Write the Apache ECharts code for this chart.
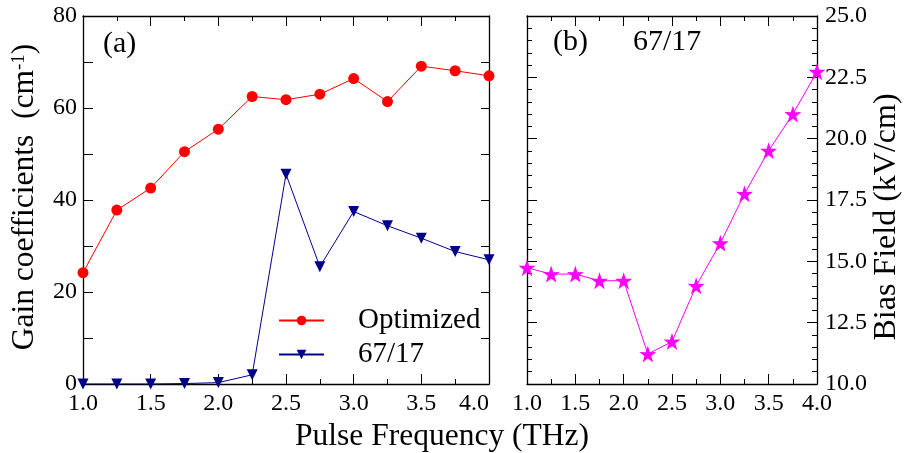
<!DOCTYPE html>
<html>
<head>
<meta charset="utf-8">
<script src="https://cdn.jsdelivr.net/npm/echarts@6/dist/echarts.min.js"></script>
<style>
  html, body { margin: 0; padding: 0; background: #fff; }
  #main { width: 904px; height: 453px; }
</style>
</head>
<body>
<div id="main"></div>
<script>
// 数据
var freq = [1.0, 1.25, 1.5, 1.75, 2.0, 2.25, 2.5, 2.75, 3.0, 3.25, 3.5, 3.75, 4.0];
var gainOptimized = [24.2, 37.8, 42.6, 50.5, 55.4, 62.5, 61.8, 63.0, 66.4, 61.4, 69.1, 68.1, 67.0];
var gain6717 = [0, 0, 0, 0.1, 0.3, 2.0, 45.6, 25.5, 37.5, 34.4, 31.7, 28.8, 27.0];
var biasField = [14.74, 14.48, 14.48, 14.21, 14.21, 11.22, 11.73, 14.0, 15.74, 17.75, 19.51, 21.0, 22.73];
var seriesNames = ["Optimized", "67/17"];

function pairs(xs, ys) {
    return xs.map(function (x, i) { return [x, ys[i]]; });
}

var FONT = "Liberation Serif";
// 五角星 symbol
var star = 'path://M50,0 L61.8,35.1 L97.6,34.5 L68.8,56 L79.4,90.5 L50,69.5 L20.6,90.5 L31.2,56 L2.4,34.5 L38.2,35.1 Z';

// 通用坐标轴样式
function axisBase(extra) {
    var a = {
        type: 'value',
        axisLine: { show: true, onZero: false, lineStyle: { color: '#000', width: 1.3 } },
        axisTick: { show: true, inside: true, length: 10, lineStyle: { color: '#000', width: 1 } },
        splitLine: { show: false },
        axisLabel: { show: false, color: '#000', fontFamily: FONT, fontSize: 24 }
    };
    for (var k in extra) a[k] = extra[k];
    return a;
}

var minorX = { show: true, splitNumber: 2, length: 5, lineStyle: { color: '#000' } };
var minorY = { show: true, splitNumber: 5, length: 5, lineStyle: { color: '#000' } };
function fix1(v) { return v.toFixed(1); }

var chart = echarts.init(document.getElementById('main'));
var option = {
    animation: false,
    backgroundColor: '#fff',
    textStyle: { fontFamily: FONT },
    grid: [
        { left: 83, top: 16, width: 406, height: 368 },
        { left: 527, top: 16, width: 290, height: 368 }
    ],
    xAxis: [
        axisBase({ gridIndex: 0, position: 'bottom', min: 1, max: 4, interval: 0.5, minorTick: minorX,
            axisLabel: { show: true, color: '#000', fontFamily: FONT, fontSize: 24, margin: 8, alignMaxLabel: 'right', formatter: fix1 } }),
        axisBase({ gridIndex: 0, position: 'top', min: 1, max: 4, interval: 0.5, minorTick: minorX }),
        axisBase({ gridIndex: 1, position: 'bottom', min: 1, max: 4, interval: 0.5, minorTick: minorX,
            axisLabel: { show: true, color: '#000', fontFamily: FONT, fontSize: 24, margin: 8, formatter: fix1 } }),
        axisBase({ gridIndex: 1, position: 'top', min: 1, max: 4, interval: 0.5, minorTick: minorX })
    ],
    yAxis: [
        axisBase({ gridIndex: 0, position: 'left', min: 0, max: 80, interval: 10,
            axisLabel: { show: true, color: '#000', fontFamily: FONT, fontSize: 24, margin: 6,
                formatter: function (v) { return v % 20 === 0 ? String(v) : ''; } } }),
        axisBase({ gridIndex: 0, position: 'right', min: 0, max: 80, interval: 10,
            axisTick: { show: true, inside: true, length: 8, lineStyle: { color: '#000' } } }),
        axisBase({ gridIndex: 1, position: 'right', min: 10, max: 25, interval: 2.5, minorTick: minorY,
            axisLabel: { show: true, color: '#000', fontFamily: FONT, fontSize: 24, margin: 8, formatter: fix1 } }),
        axisBase({ gridIndex: 1, position: 'left', min: 10, max: 25, interval: 2.5, minorTick: minorY })
    ],
    legend: {
        orient: 'vertical',
        left: 278,
        top: 306,
        padding: 0,
        itemWidth: 45,
        itemHeight: 12,
        itemGap: 5,
        data: seriesNames,
        formatter: function (n) { return '    ' + n; },
        textStyle: { color: '#000', fontFamily: FONT, fontSize: 29 }
    },
    graphic: [
        { type: 'text', left: 103, top: 29, style: { text: '(a)', fontFamily: FONT, fontSize: 30, fill: '#000' } },
        { type: 'text', left: 553, top: 27, style: { text: '(b)', fontFamily: FONT, fontSize: 30, fill: '#000' } },
        { type: 'text', left: 633, top: 27, style: { text: '67/17', fontFamily: FONT, fontSize: 30, fill: '#000' } },
        { type: 'text', x: 442, y: 437, style: { text: 'Pulse Frequency (THz)', fontFamily: FONT, fontSize: 31.5,
            fill: '#000', align: 'center', verticalAlign: 'middle' } },
        { type: 'text', x: 25, y: 197, rotation: Math.PI / 2,
            style: { text: '{a|Gain coefficients  (cm}{s|-1}{a|)}', align: 'center', verticalAlign: 'middle',
                rich: {
                    a: { fontFamily: FONT, fontSize: 31.5, fill: '#000', color: '#000', verticalAlign: 'bottom', lineHeight: 31 },
                    s: { fontFamily: FONT, fontSize: 19, fill: '#000', color: '#000', verticalAlign: 'top', lineHeight: 31 }
                } } },
        { type: 'text', x: 887, y: 217, rotation: Math.PI / 2,
            style: { text: 'Bias Field (kV/cm)', fontFamily: FONT, fontSize: 32, fill: '#000',
                align: 'center', verticalAlign: 'middle' } }
    ],
    series: [
        {
            name: 'Optimized', type: 'line', xAxisIndex: 0, yAxisIndex: 0,
            data: pairs(freq, gainOptimized),
            symbol: 'circle', symbolSize: 11,
            itemStyle: { color: '#ff0000' },
            lineStyle: { color: '#ff0000', width: 1 }
        },
        {
            name: '67/17', type: 'line', xAxisIndex: 0, yAxisIndex: 0,
            data: pairs(freq, gain6717),
            symbol: 'triangle', symbolRotate: 180, symbolSize: 11,
            itemStyle: { color: '#00008b' },
            lineStyle: { color: '#00008b', width: 1 }
        },
        {
            name: 'Bias', type: 'line', xAxisIndex: 2, yAxisIndex: 2,
            data: pairs(freq, biasField),
            symbol: star, symbolSize: 17,
            itemStyle: { color: '#ff00ff' },
            lineStyle: { color: '#ff00ff', width: 1 }
        }
    ]
};
chart.setOption(option);
</script>
</body>
</html>
